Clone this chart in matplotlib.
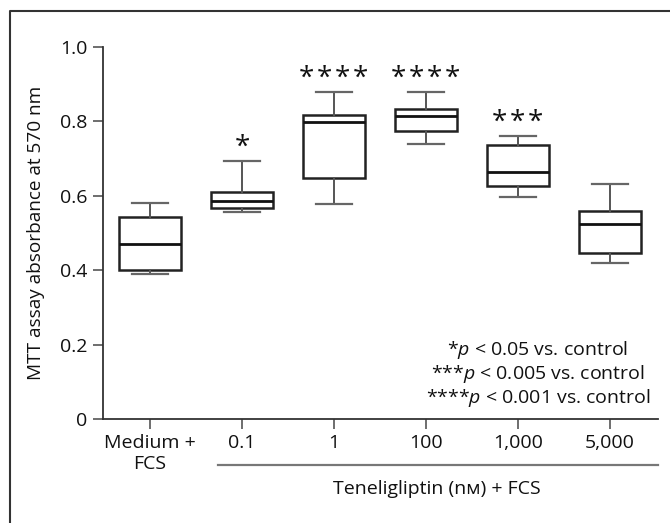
import matplotlib
matplotlib.use("Agg")
import matplotlib.pyplot as plt
from matplotlib.lines import Line2D

plt.rcParams['font.family'] = ['Open Sans', 'DejaVu Sans']
plt.rcParams['mathtext.fontset'] = 'custom'
plt.rcParams['mathtext.rm'] = 'Open Sans'
plt.rcParams['mathtext.it'] = 'Open Sans:italic'

categories = ["Medium +\nFCS", "0.1", "1", "100", "1,000", "5,000"]
whislo = [0.391, 0.557, 0.577, 0.740, 0.596, 0.420]
q1 = [0.400, 0.566, 0.648, 0.775, 0.627, 0.445]
med = [0.470, 0.587, 0.799, 0.814, 0.664, 0.523]
q3 = [0.544, 0.610, 0.817, 0.832, 0.736, 0.558]
whishi = [0.580, 0.693, 0.880, 0.880, 0.761, 0.632]
stars = ["", "*", "****", "****", "***", ""]
yticks = [0, 0.2, 0.4, 0.6, 0.8, 1.0]
ytick_labels = ["0", "0.2", "0.4", "0.6", "0.8", "1.0"]
legend_lines = [r"*$\it{p}$ < 0.05 vs. control",
                r"***$\it{p}$ < 0.005 vs. control",
                r"****$\it{p}$ < 0.001 vs. control"]

FS = 14
W, H = 670, 523
fig = plt.figure(figsize=(W / 100, H / 100), dpi=100)
ax = fig.add_axes([103 / W, 1 - 419 / H, (658 - 103) / W, (419 - 47) / H])

stats = []
for i in range(len(categories)):
    stats.append(dict(whislo=whislo[i], q1=q1[i], med=med[i], q3=q3[i],
                      whishi=whishi[i], fliers=[]))
positions = list(range(len(categories)))
ax.bxp(stats, positions=positions, widths=0.67, capwidths=0.39,
       showfliers=False, patch_artist=True,
       boxprops=dict(facecolor='white', edgecolor='#222222', linewidth=1.8),
       medianprops=dict(color='#111111', linewidth=2.0),
       whiskerprops=dict(color='#555555', linewidth=1.4),
       capprops=dict(color='#666666', linewidth=1.6))

for i, s in enumerate(stars):
    if s:
        ax.text(positions[i], whishi[i] + 0.016, "\u200a".join(s), ha='center',
                va='baseline', fontsize=20, color='#111111')

ax.set_xlim(-0.51, 5.52)
ax.set_ylim(0, 1.0)
ax.set_yticks(yticks)
ax.set_yticklabels(ytick_labels)
ax.set_xticks(positions)
ax.set_xticklabels(categories, linespacing=1.2)
for sp in ['top', 'right']:
    ax.spines[sp].set_visible(False)
for sp in ['left', 'bottom']:
    ax.spines[sp].set_color('#333333')
    ax.spines[sp].set_linewidth(1.3)
ax.tick_params(axis='both', direction='out', length=7, width=1.2,
               color='#555555', labelsize=FS, labelcolor='#111111', pad=4)

for k, line in enumerate(legend_lines):
    fig.text(538 / W, 1 - (350 + 24 * k) / H, line, ha='center', va='center',
             fontsize=FS, color='#111111')

fig.text(36 / W, 1 - 233 / H, "MTT assay absorbance at 570 nm", rotation=90,
         ha='center', va='center', fontsize=13.7, color='#111111')

fig.add_artist(Line2D([218 / W, 658 / W], [1 - 465 / H, 1 - 465 / H],
                      transform=fig.transFigure, color='#777777', linewidth=1.6))
fig.text(437 / W, 1 - 489 / H, "Teneligliptin (nм) + FCS", ha='center',
         va='center', fontsize=FS, color='#111111')

# figure frame (left and top edges)
fig.add_artist(Line2D([10 / W, 10 / W, 1.0], [0.0, 1 - 11 / H, 1 - 11 / H],
                      transform=fig.transFigure, color='#333333', linewidth=1.5))

fig.savefig("out.png", dpi=100)
